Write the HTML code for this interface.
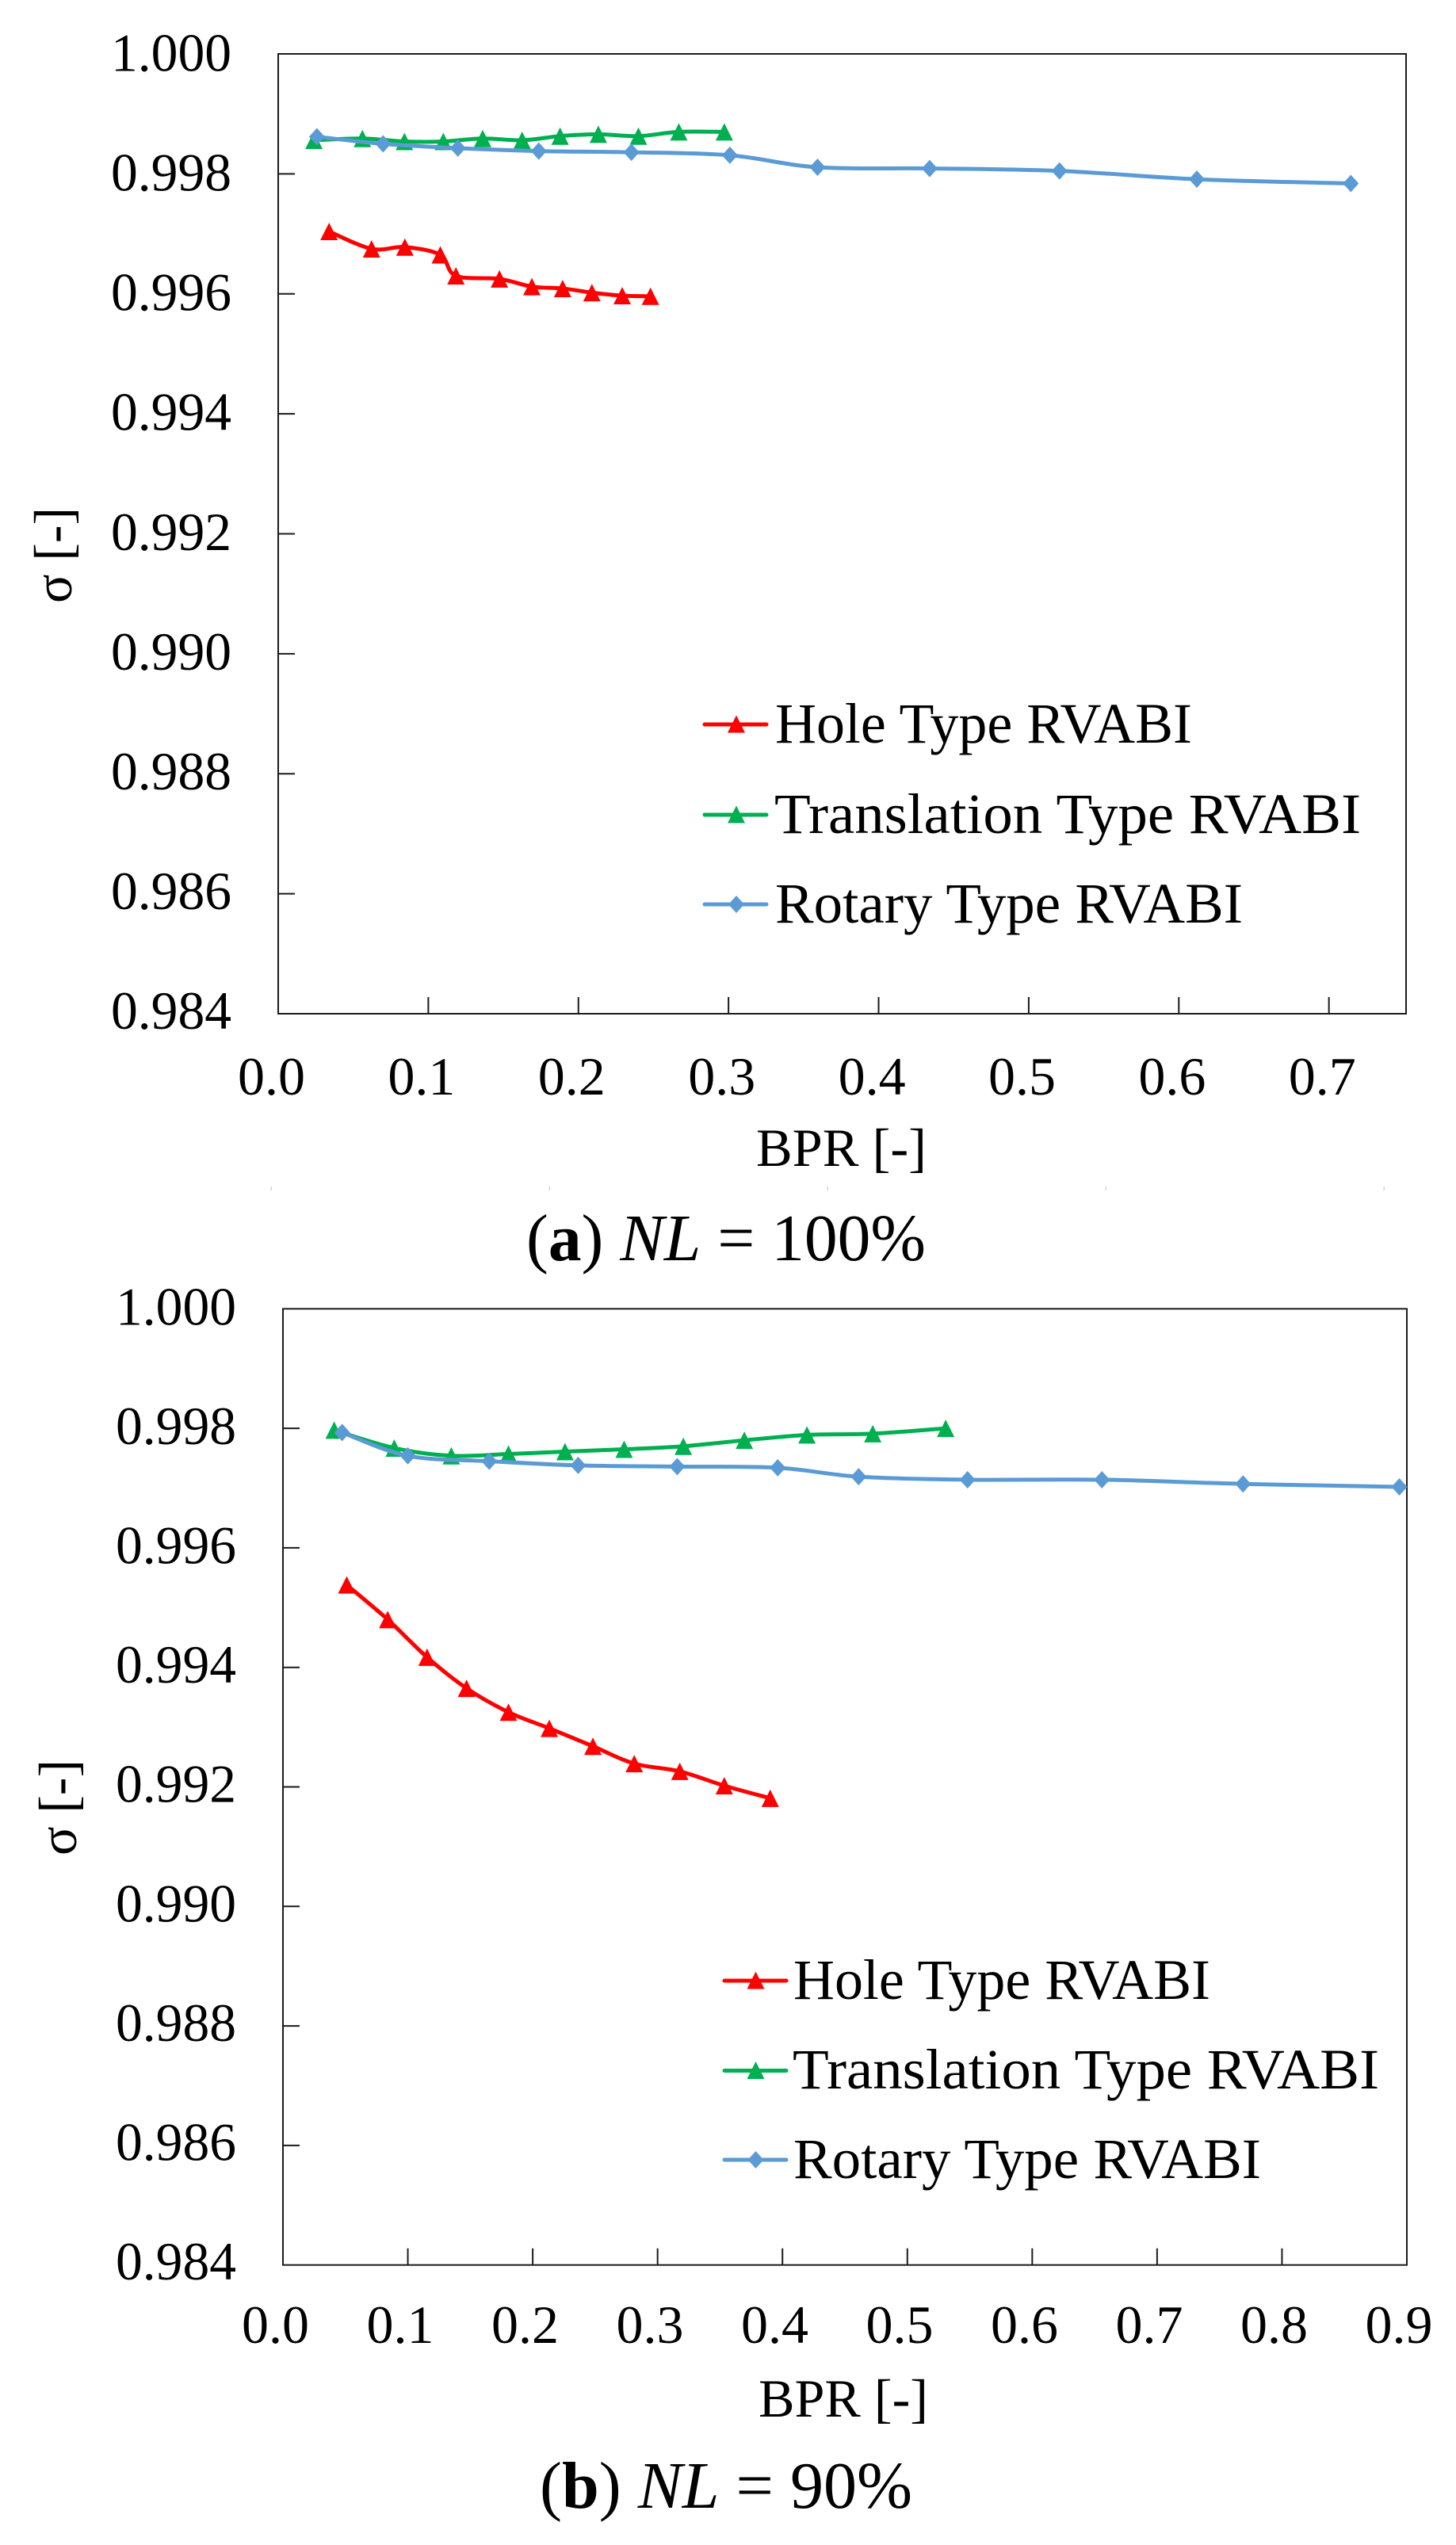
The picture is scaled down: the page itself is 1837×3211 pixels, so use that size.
<!DOCTYPE html>
<html lang="en">
<head>
<meta charset="utf-8">
<title>Total pressure recovery vs BPR</title>
<style>
html,body{margin:0;padding:0;background:#fff;}
svg{display:block;}
text{font-family:"Liberation Serif",serif;fill:#000;}
</style>
</head>
<body>
<svg id="figure" xmlns="http://www.w3.org/2000/svg" width="1837" height="3211" viewBox="0 0 1837 3211">
<rect width="1837" height="3211" fill="#fff"/>

<g id="chart-a">
  <g id="a-ticks"></g>
  <g id="a-series"></g>
  <text transform="translate(90,761) rotate(-90)" font-size="68" textLength="121" lengthAdjust="spacingAndGlyphs">σ [-]</text>
  <text x="954" y="1471" font-size="68" textLength="215" lengthAdjust="spacingAndGlyphs">BPR [-]</text>
  <text x="978" y="937" font-size="72" textLength="526" lengthAdjust="spacingAndGlyphs">Hole Type RVABI</text>
  <text x="977" y="1051" font-size="72" textLength="740" lengthAdjust="spacingAndGlyphs">Translation Type RVABI</text>
  <text x="978" y="1164" font-size="72" textLength="590" lengthAdjust="spacingAndGlyphs">Rotary Type RVABI</text>
  <text x="664" y="1590" font-size="84" textLength="504" lengthAdjust="spacingAndGlyphs">(<tspan font-weight="bold">a</tspan>) <tspan font-style="italic">NL</tspan> = 100%</text>
</g>

<g fill="#d4d4d4">
  <rect x="341.5" y="1497" width="1.5" height="5"/>
  <rect x="692.5" y="1497" width="1.5" height="5"/>
  <rect x="1043.5" y="1497" width="1.5" height="5"/>
  <rect x="1394.5" y="1497" width="1.5" height="5"/>
  <rect x="1745.5" y="1497" width="1.5" height="5"/>
</g>

<g id="chart-b">
  <g id="b-ticks"></g>
  <g id="b-series"></g>
  <text transform="translate(96,2341) rotate(-90)" font-size="68" textLength="121" lengthAdjust="spacingAndGlyphs">σ [-]</text>
  <text x="957" y="3049" font-size="68" textLength="214" lengthAdjust="spacingAndGlyphs">BPR [-]</text>
  <text x="1001" y="2522" font-size="72" textLength="526" lengthAdjust="spacingAndGlyphs">Hole Type RVABI</text>
  <text x="1000" y="2635" font-size="72" textLength="740" lengthAdjust="spacingAndGlyphs">Translation Type RVABI</text>
  <text x="1001" y="2748" font-size="72" textLength="590" lengthAdjust="spacingAndGlyphs">Rotary Type RVABI</text>
  <text x="681" y="3164" font-size="84" textLength="470" lengthAdjust="spacingAndGlyphs">(<tspan font-weight="bold">b</tspan>) <tspan font-style="italic">NL</tspan> = 90%</text>
</g>
</svg>

<script>
// ---------- data: chart (a) NL = 100% ----------
const aHoleBpr = [0.0339,0.0622,0.0844,0.108,0.1184,0.1474,0.169,0.1895,0.209,0.2292,0.248];
const aHoleSigma = [0.99704,0.99675,0.99678,0.99665,0.9963,0.99625,0.99612,0.99609,0.99602,0.99597,0.99596];
const aTransBpr = [0.0238,0.0561,0.0841,0.11,0.1362,0.1625,0.1878,0.2133,0.24,0.2669,0.2972];
const aTransSigma = [0.99856,0.99859,0.99854,0.99854,0.99859,0.99856,0.99863,0.99866,0.99863,0.9987,0.9987];
const aRotBpr = [0.0258,0.0699,0.1197,0.1736,0.2353,0.3009,0.3593,0.434,0.5205,0.612,0.7146];
const aRotSigma = [0.99862,0.9985,0.99843,0.99838,0.99836,0.99831,0.99811,0.99809,0.99805,0.99791,0.99784];
const aXTicks = ["0.0","0.1","0.2","0.3","0.4","0.5","0.6","0.7"];
const aYTicks = ["1.000","0.998","0.996","0.994","0.992","0.990","0.988","0.986","0.984"];

// ---------- data: chart (b) NL = 90% ----------
const bHoleBpr = [0.0511,0.0839,0.1154,0.147,0.1806,0.2133,0.2482,0.2813,0.3178,0.3534,0.3902];
const bHoleSigma = [0.99538,0.9948,0.99417,0.99365,0.99325,0.99298,0.99268,0.99239,0.99226,0.99202,0.99181];
const bTransBpr = [0.041,0.0891,0.1348,0.1806,0.2259,0.2732,0.3206,0.3695,0.4196,0.4723,0.5307];
const bTransSigma = [0.99797,0.99767,0.99754,0.99757,0.99761,0.99765,0.9977,0.9978,0.99789,0.99791,0.998];
const bRotBpr = [0.0474,0.1,0.1652,0.2364,0.3157,0.3962,0.461,0.5482,0.6558,0.7688,0.894];
const bRotSigma = [0.99793,0.99754,0.99745,0.99738,0.99736,0.99734,0.99719,0.99714,0.99714,0.99707,0.99702];
const bXTicks = ["0.0","0.1","0.2","0.3","0.4","0.5","0.6","0.7","0.8","0.9"];
const bYTicks = ["1.000","0.998","0.996","0.994","0.992","0.990","0.988","0.986","0.984"];

const RED = "#ff0000", GREEN = "#00b050", BLUE = "#5b9bd5";
const SVGNS = "http://www.w3.org/2000/svg";

function make(tag, attrs, parent) {
  const el = document.createElementNS(SVGNS, tag);
  for (const k in attrs) el.setAttribute(k, attrs[k]);
  parent.appendChild(el);
  return el;
}

// Smoothed line through the scaled points (Excel-style smoothing)
function smoothPath(pts) {
  let d = "M" + pts[0][0].toFixed(2) + " " + pts[0][1].toFixed(2);
  for (let i = 0; i < pts.length - 1; i++) {
    const p0 = pts[Math.max(i - 1, 0)], p1 = pts[i], p2 = pts[i + 1], p3 = pts[Math.min(i + 2, pts.length - 1)];
    const c1x = p1[0] + (p2[0] - p0[0]) / 6, c1y = p1[1] + (p2[1] - p0[1]) / 6;
    const c2x = p2[0] - (p3[0] - p1[0]) / 6, c2y = p2[1] - (p3[1] - p1[1]) / 6;
    d += "C" + [c1x, c1y, c2x, c2y, p2[0], p2[1]].map(v => v.toFixed(2)).join(" ");
  }
  return d;
}

function drawMarker(kind, cx, cy, color, parent, name) {
  let pts;
  if (kind === "triangle") {
    pts = [[cx, cy - 11], [cx + 11, cy + 11], [cx - 11, cy + 11]];
  } else {
    pts = [[cx, cy - 11], [cx + 10, cy], [cx, cy + 11], [cx - 10, cy]];
  }
  const m = make("polygon", {points: pts.map(p => p.join(",")).join(" "), fill: color}, parent);
  
  
}

function drawSeries(parent, bpr, sigma, xs, ys, color, kind, name) {
  const g = make("g", {}, parent);
  
  
  const pts = bpr.map((b, i) => [xs(b), ys(sigma[i])]);
  const line = make("path", {d: smoothPath(pts), fill: "none", stroke: color, "stroke-width": 5, "stroke-linejoin": "round", "stroke-linecap": "round"}, g);
  
  
  pts.forEach(p => drawMarker(kind, p[0], p[1], color, g, name + '-point'));
}

function drawAxes(parent, box, xLabels, yLabels, xs, ys, xMax, yMin, yLabelStart, yLabelOffset, xLabelStart, xLabelPitch, xLabelBase) {
  const frame = make("rect", {x: box.l, y: box.t, width: box.r - box.l, height: box.b - box.t, fill: "none", stroke: "#1a1a1a", "stroke-width": 2}, parent);
  
  
  yLabels.forEach((lab, i) => {
    const v = parseFloat(lab);
    const y = ys(v);
    if (i > 0 && i < yLabels.length - 1) {
      const t = make("line", {x1: box.l, x2: box.l + 21, y1: y, y2: y, stroke: "#1a1a1a", "stroke-width": 2}, parent);
      
      
    }
    const tx = make("text", {x: yLabelStart, y: y + yLabelOffset(i), "font-size": 68, textLength: 152, lengthAdjust: "spacingAndGlyphs"}, parent);
    tx.textContent = lab;
    
    
  });
  xLabels.forEach((lab, i) => {
    const v = parseFloat(lab);
    const x = xs(v);
    if (i > 0 && v < xMax) {
      const t = make("line", {x1: x, x2: x, y1: box.b, y2: box.b - 21, stroke: "#1a1a1a", "stroke-width": 2}, parent);
      
      
    }
    const tx = make("text", {x: xLabelStart + i * xLabelPitch, y: xLabelBase, "font-size": 68, textLength: 85, lengthAdjust: "spacingAndGlyphs"}, parent);
    tx.textContent = lab;
    
    
  });
}

function drawLegendKey(parent, x1, x2, cx, y, color, kind, name) {
  const g = make("g", {}, parent);
  
  
  const l = make("line", {x1: x1, x2: x2, y1: y, y2: y, stroke: color, "stroke-width": 5, "stroke-linecap": "round"}, g);
  
  
  drawMarker(kind, cx, kind === "triangle" ? y - 0.5 : y, color, g, name + '-marker');
}

// ---------- chart (a) ----------
const boxA = {l: 351, r: 1774, t: 68, b: 1279};
const xMaxA = 0.7514, yMinA = 0.984;
const xA = v => boxA.l + (v / xMaxA) * (boxA.r - boxA.l);
const yA = v => boxA.t + ((1 - v) / (1 - yMinA)) * (boxA.b - boxA.t);
drawAxes(document.getElementById("a-ticks"), boxA, aXTicks, aYTicks, xA, yA, xMaxA, yMinA, 140, i => 21.5 - i * 0.3, 300, 189.4, 1381);
const seriesA = document.getElementById("a-series");
drawSeries(seriesA, aHoleBpr, aHoleSigma, xA, yA, RED, "triangle", "hole-type-series-a");
drawSeries(seriesA, aTransBpr, aTransSigma, xA, yA, GREEN, "triangle", "translation-type-series-a");
drawSeries(seriesA, aRotBpr, aRotSigma, xA, yA, BLUE, "diamond", "rotary-type-series-a");
drawLegendKey(seriesA, 889, 967, 929, 914, RED, "triangle", "legend-key-hole-a");
drawLegendKey(seriesA, 889, 967, 929, 1028, GREEN, "triangle", "legend-key-translation-a");
drawLegendKey(seriesA, 889, 967, 929, 1141, BLUE, "diamond", "legend-key-rotary-a");

// ---------- chart (b) ----------
const boxB = {l: 357, r: 1775, t: 1651.3, b: 2857.7};
const xMaxB = 0.9, yMinB = 0.984;
const xB = v => boxB.l + (v / xMaxB) * (boxB.r - boxB.l);
const yB = v => boxB.t + ((1 - v) / (1 - yMinB)) * (boxB.b - boxB.t);
drawAxes(document.getElementById("b-ticks"), boxB, bXTicks, bYTicks, xB, yB, xMaxB, yMinB, 146, i => 20 - i * 0.2, 305, 157.5, 2956);
const seriesB = document.getElementById("b-series");
drawSeries(seriesB, bHoleBpr, bHoleSigma, xB, yB, RED, "triangle", "hole-type-series-b");
drawSeries(seriesB, bTransBpr, bTransSigma, xB, yB, GREEN, "triangle", "translation-type-series-b");
drawSeries(seriesB, bRotBpr, bRotSigma, xB, yB, BLUE, "diamond", "rotary-type-series-b");
drawLegendKey(seriesB, 914, 992, 953.5, 2499, RED, "triangle", "legend-key-hole-b");
drawLegendKey(seriesB, 914, 992, 953.5, 2612.5, GREEN, "triangle", "legend-key-translation-b");
drawLegendKey(seriesB, 914, 992, 953.5, 2725, BLUE, "diamond", "legend-key-rotary-b");
</script>
</body>
</html>
